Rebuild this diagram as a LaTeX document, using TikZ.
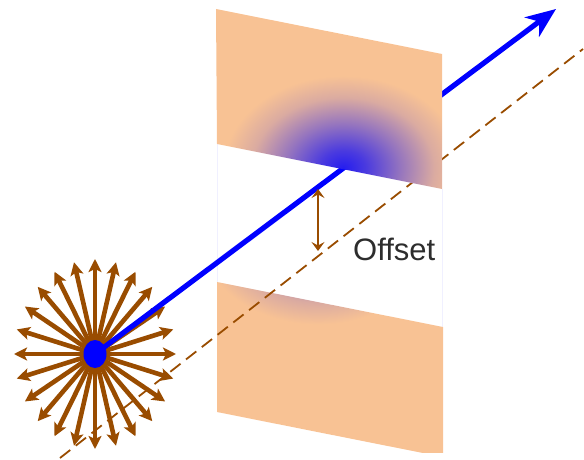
\documentclass[tikz,border=0pt]{standalone}
\usepackage{fontspec}
\setmainfont{Liberation Sans}
\usetikzlibrary{arrows.meta}

\definecolor{panelpeach}{RGB}{248,194,148}
\definecolor{rayBrown}{RGB}{153,76,0}
\definecolor{beamBlue}{RGB}{0,0,255}
\definecolor{labelGray}{RGB}{45,45,45}

% glow left by the beam on the slit plates
% (the shaded box edge sits at 25bp, so the glow fades out well inside it)
\pgfdeclareradialshading{beamglow}{\pgfpoint{0bp}{0bp}}{%
  color(0bp)=(beamBlue!85!panelpeach);
  color(2bp)=(beamBlue!70!panelpeach);
  color(5bp)=(beamBlue!40!panelpeach);
  color(8bp)=(beamBlue!12!panelpeach);
  color(10.5bp)=(panelpeach);
  color(50bp)=(panelpeach)}

\tikzset{
  ray/.style={rayBrown, line width=4.6pt, -{Stealth[length=13pt,width=13pt,inset=3pt]}},
  beam/.style={beamBlue, line width=5.2pt, -{Stealth[length=30pt,width=24pt,inset=9pt]}},
  axisline/.style={rayBrown, line width=1.8pt, dash pattern=on 13pt off 7pt},
  offsetarrow/.style={rayBrown, line width=2.3pt, {Stealth[length=9pt,width=13pt,inset=3.5pt]}-{Stealth[length=9pt,width=13pt,inset=3.5pt]}},
  edgeglow/.style={beamBlue!6, line width=0.8pt}
}

\begin{document}
\begin{tikzpicture}[x=1pt,y=-1pt]
\useasboundingbox (0,0) rectangle (584,460);

% key points
\coordinate (src) at (95,354);
\coordinate (tip) at (556,9);
\coordinate (d0) at (60,458);
\coordinate (d1) at (583,49);
\coordinate (o1) at (318,189);
\coordinate (o2) at (318,251);

% faint edges of the gap between the plates
\draw[edgeglow] (217,144) -- (217,282);
\draw[edgeglow] (442,189) -- (442,327);

% lower plate
\begin{scope}
  \clip (217,282) -- (443,327) -- (443,457) -- (217,412) -- cycle;
  \shade[shading=beamglow] (318-285,232-220) rectangle (318+285,232+220);
\end{scope}

% undeflected axis
\draw[axisline] (d0) -- (d1);

% isotropic emission from the source
\foreach \a in {0,15,...,345}
  \draw[ray] (src) -- ++(\a:81 and 95);

% emitted beam
\draw[beam] (src) -- (tip);
\fill[beamBlue] (src) ellipse (11.5 and 14);

% upper plate
\begin{scope}
  \clip (216,9) -- (442,54) -- (442,189) -- (217,144) -- cycle;
  \shade[shading=beamglow] (343-285,168-220) rectangle (343+285,168+220);
\end{scope}

% offset marker
\draw[offsetarrow] (o1) -- (o2);
\node[anchor=base west, inner sep=0pt, text=labelGray,
      font=\fontsize{31}{31}\selectfont] (offsetlabel) at (353,260) {Offset};
\end{tikzpicture}
\end{document}
